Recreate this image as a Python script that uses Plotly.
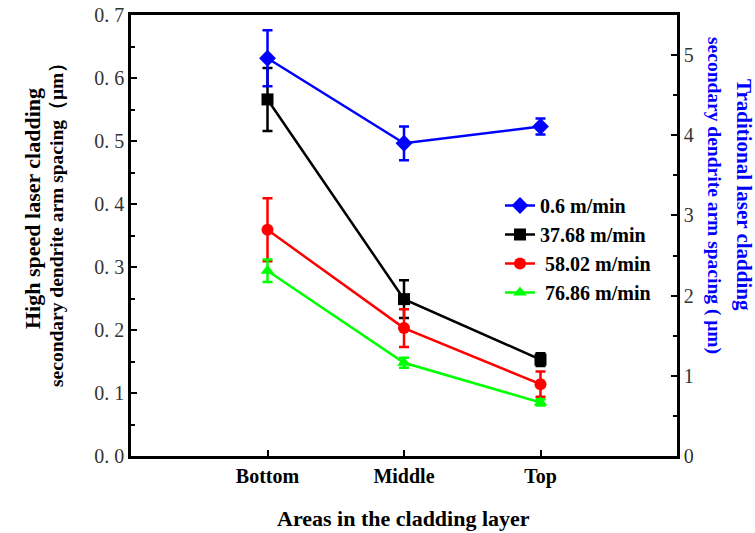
import plotly.graph_objects as go

categories = ["Bottom", "Middle", "Top"]

# Traditional (right axis)
trad_name = "0.6 m/min"
trad_vals = [4.96, 3.90, 4.11]
trad_err = [0.35, 0.21, 0.10]

# High speed (left axis)
hs_names = ["37.68 m/min", " 58.02 m/min", " 76.86 m/min"]
hs_vals = [
    [0.566, 0.249, 0.153],
    [0.359, 0.203, 0.114],
    [0.294, 0.148, 0.085],
]
hs_errs = [
    [0.050, 0.030, 0.010],
    [0.050, 0.030, 0.020],
    [0.018, 0.008, 0.005],
]
hs_colors = ["#000000", "#ff0000", "#00ff00"]
hs_symbols = ["square", "circle", "triangle-up"]

left_ticks = [0.0, 0.1, 0.2, 0.3, 0.4, 0.5, 0.6, 0.7]
right_ticks = [0, 1, 2, 3, 4, 5]

left_title = ["High speed laser cladding", "secondary dendrite arm spacing（μm）"]
right_title = ["Traditional laser cladding", "secondary dendrite arm spacing ( μm)"]
x_title = "Areas in the cladding layer"

serif = "Liberation Serif"

L, R, T, B = 131, 78, 15, 77
W, H = 755, 533
pw = W - L - R
ph = H - T - B

fig = go.Figure()

fig.add_trace(go.Scatter(
    x=categories, y=trad_vals, name=trad_name, yaxis="y2",
    mode="lines+markers",
    line=dict(color="#0000ff", width=2.5),
    marker=dict(symbol="diamond", size=13, color="#0000ff"),
    error_y=dict(type="data", array=trad_err, color="#0000ff", thickness=2.5, width=5),
))

for name, vals, errs, col, sym in zip(hs_names, hs_vals, hs_errs, hs_colors, hs_symbols):
    fig.add_trace(go.Scatter(
        x=categories, y=vals, name=name,
        mode="lines+markers",
        line=dict(color=col, width=2.5),
        marker=dict(symbol=sym, size=12, color=col),
        error_y=dict(type="data", array=errs, color=col, thickness=2.5, width=5),
    ))


def px_to_paper_x(px):
    return (px - L) / pw


def px_to_paper_y(py):
    return (H - B - py) / ph


def title_line(text, x, y, angle, size, color):
    return dict(text=text, x=px_to_paper_x(x), y=px_to_paper_y(y),
                xref="paper", yref="paper", xanchor="center", yanchor="middle",
                showarrow=False, textangle=angle,
                font=dict(family=serif, size=size, color=color, weight="bold"))


fig.update_layout(
    width=W, height=H,
    margin=dict(l=L, r=R, t=T, b=B, autoexpand=False),
    plot_bgcolor="white", paper_bgcolor="white",
    showlegend=True,
    legend=dict(
        x=px_to_paper_x(500), y=px_to_paper_y(186), xanchor="left", yanchor="top",
        bgcolor="rgba(0,0,0,0)",
        font=dict(family=serif, size=20, color="black", weight="bold"),
        tracegroupgap=0,
    ),
    xaxis=dict(
        type="category", range=[-1, 3], automargin=False,
        showline=True, linecolor="black", linewidth=2.5, mirror=True,
        ticks="inside", ticklen=6, tickwidth=2, tickcolor="black",
        tickfont=dict(family=serif, size=20, color="black", weight="bold"),
        showgrid=False, zeroline=False,
    ),
    yaxis=dict(
        range=[0, 0.7], automargin=False,
        tickvals=left_ticks, ticktext=[f"{v:.1f}".replace(".", ". ") for v in left_ticks],
        showline=True, linecolor="black", linewidth=2.5,
        ticks="inside", ticklen=6, tickwidth=2, tickcolor="black",
        minor=dict(ticks="inside", ticklen=4, tickwidth=2, tickcolor="black", dtick=0.05, showgrid=False),
        tickfont=dict(family=serif, size=20, color="#333333"),
        showgrid=False, zeroline=False,
    ),
    yaxis2=dict(
        range=[0, 5.5], overlaying="y", side="right", automargin=False,
        tickvals=right_ticks, ticktext=[str(v) for v in right_ticks],
        showline=True, linecolor="black", linewidth=2.5,
        ticks="inside", ticklen=6, tickwidth=2, tickcolor="black",
        minor=dict(ticks="inside", ticklen=4, tickwidth=2, tickcolor="black", dtick=0.5, showgrid=False),
        tickfont=dict(family=serif, size=20, color="#333333"),
        showgrid=False, zeroline=False,
    ),
    annotations=[
        title_line(left_title[0], 32, 209, -90, 22, "black"),
        title_line(left_title[1], 56, 220, -90, 19.5, "black"),
        title_line(right_title[0], 744, 195, 90, 21, "#0000ff"),
        title_line(right_title[1], 714, 195, 90, 19.5, "#0000ff"),
        title_line(x_title, 403, 518, 0, 22, "black"),
    ],
)

fig.write_html("out.html")
